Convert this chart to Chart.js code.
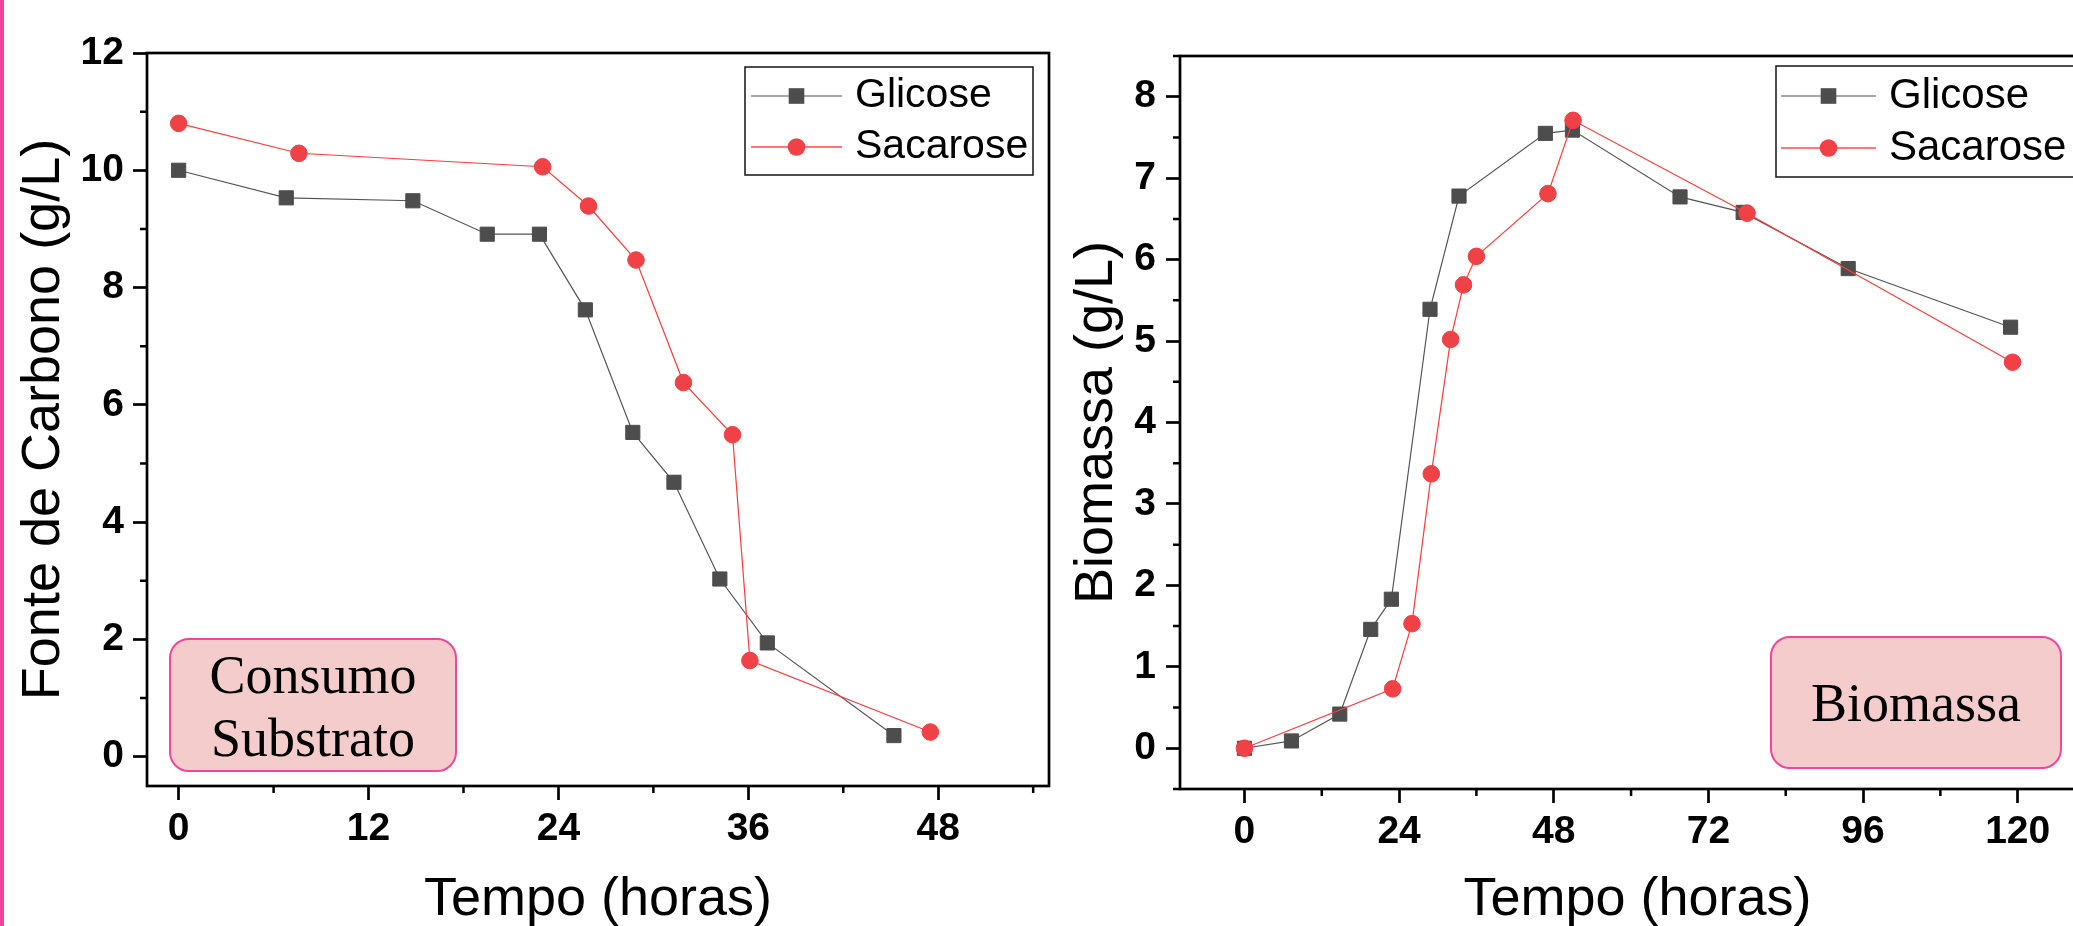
<!DOCTYPE html>
<html><head><meta charset="utf-8">
<script src="https://cdn.jsdelivr.net/npm/chart.js@4.4.1/dist/chart.umd.min.js"></script>
<style>
html,body{margin:0;padding:0;background:#fff;width:2073px;height:926px;overflow:hidden;}
#wrap{position:relative;width:2073px;height:926px;overflow:hidden;background:#fff;}
canvas{position:absolute;top:0;}
#c1{left:0;width:1060px;height:926px;}
#c2{left:1060px;width:1100px;height:926px;}
.bar{position:absolute;left:0;top:0;width:4px;height:926px;background:#f0449a;}
.note{position:absolute;box-sizing:border-box;border:2px solid #f4449b;border-radius:20px;background:#f4cccc;
font-family:"Liberation Serif","Times New Roman",serif;font-size:54px;line-height:63px;text-align:center;color:#000;}
</style></head>
<body><div id="wrap">
<canvas id="c1" width="1060" height="926"></canvas>
<canvas id="c2" width="1100" height="926"></canvas>
<div class="bar"></div>
<div class="note" style="left:169px;top:638px;width:288px;height:134px;padding-top:4px;">Consumo<br>Substrato</div>
<div class="note" style="left:1770px;top:636px;width:292px;height:133px;padding-top:34px;">Biomassa</div>
</div>
<script>
// ---------- data ----------
const seriesNames = ['Glicose', 'Sacarose'];

// Consumo de substrato (g/L) vs tempo (h)
const substrateGlicoseHours = [0, 6.8, 14.8, 19.5, 22.8, 25.7, 28.7, 31.3, 34.2, 37.2, 45.2];
const substrateGlicose      = [10.0, 9.53, 9.48, 8.91, 8.91, 7.62, 5.53, 4.68, 3.03, 1.94, 0.36];
const substrateSacaroseHours = [0, 7.6, 23.0, 25.9, 28.9, 31.9, 35.0, 36.1, 47.5];
const substrateSacarose      = [10.80, 10.29, 10.06, 9.39, 8.47, 6.38, 5.49, 1.64, 0.42];

// Biomassa (g/L) vs tempo (h)
const biomassGlicoseHours = [0, 7.3, 14.8, 19.6, 22.8, 28.8, 33.3, 46.7, 50.9, 67.6, 77.4, 93.7, 118.9];
const biomassGlicose      = [0.0, 0.09, 0.42, 1.46, 1.83, 5.39, 6.78, 7.55, 7.59, 6.77, 6.58, 5.89, 5.17];
const biomassSacaroseHours = [0, 23.0, 26.0, 29.0, 32.0, 34.0, 36.0, 47.1, 51.0, 78.0, 119.2];
const biomassSacarose      = [0.0, 0.73, 1.53, 3.37, 5.02, 5.69, 6.04, 6.81, 7.71, 6.57, 4.74];

// ticks
const leftXTicks = [0, 12, 24, 36, 48];
const leftXMinor = [6, 18, 30, 42, 54];
const leftYTicks = [0, 2, 4, 6, 8, 10, 12];
const leftYMinor = [1, 3, 5, 7, 9, 11];
const rightXTicks = [0, 24, 48, 72, 96, 120];
const rightXMinor = [12, 36, 60, 84, 108, 132];
const rightYTicks = [0, 1, 2, 3, 4, 5, 6, 7, 8];
const rightYMinor = [-0.5, 0.5, 1.5, 2.5, 3.5, 4.5, 5.5, 6.5, 7.5, 8.5];

const xTitle = 'Tempo (horas)';
const leftYTitle = 'Fonte de Carbono (g/L)';
const rightYTitle = 'Biomassa (g/L)';

// ---------- styles ----------
const GRAY = '#4d4d4d', GRAY_LINE = '#555555', RED = '#ef4146', RED_LINE = '#ff3b3b';
const SANS = '"Liberation Sans", Arial, sans-serif';
const TICK_FONT = {family: SANS, size: 39, weight: 'bold', lineHeight: 1.2};
const TITLE_FONT = {family: SANS, size: 54, weight: 'normal', lineHeight: 1};

const toPoints = (xs, ys) => xs.map((x, i) => ({x: x, y: ys[i]}));

const framePlugin = {
  id: 'frame',
  afterDraw(chart, args, o) {
    const {ctx, chartArea: a, scales} = chart;
    ctx.save();
    ctx.strokeStyle = '#000';
    ctx.lineWidth = 2.7;
    ctx.strokeRect(a.left, a.top, a.right - a.left, a.bottom - a.top);
    ctx.lineWidth = 2.5;
    ctx.beginPath();
    o.xMinor.forEach(v => { const p = scales.x.getPixelForValue(v); ctx.moveTo(p, a.bottom); ctx.lineTo(p, a.bottom + 7); });
    o.yMinor.forEach(v => { const p = scales.y.getPixelForValue(v); ctx.moveTo(a.left, p); ctx.lineTo(a.left - 7, p); });
    ctx.stroke();
    // legend
    const L = o.legend;
    ctx.fillStyle = '#fff';
    ctx.fillRect(L.x, L.y, L.w, L.h);
    ctx.strokeStyle = '#222';
    ctx.lineWidth = 1.6;
    ctx.strokeRect(L.x, L.y, L.w, L.h);
    chart.data.datasets.forEach((d, i) => {
      const y = L.rows[i];
      ctx.strokeStyle = d.legendLine;
      ctx.lineWidth = 1.6;
      ctx.beginPath(); ctx.moveTo(L.lineX1, y); ctx.lineTo(L.lineX2, y); ctx.stroke();
      const mx = (L.lineX1 + L.lineX2) / 2;
      ctx.fillStyle = d.pointBackgroundColor;
      if (d.pointStyle === 'rect') {
        ctx.fillRect(mx - 7.8, y - 7.8, 15.6, 15.6);
      } else {
        ctx.beginPath(); ctx.arc(mx, y, 8.8, 0, Math.PI * 2); ctx.fill();
      }
      ctx.fillStyle = '#000';
      ctx.font = L.fontSize + 'px ' + SANS;
      ctx.textBaseline = 'middle';
      ctx.textAlign = 'left';
      ctx.fillText(d.label, L.textX, y);
    });
    ctx.restore();
  }
};

function makeChart(id, c) {
  return new Chart(document.getElementById(id), {
    type: 'line',
    data: {datasets: [
      {label: seriesNames[0], data: toPoints(c.gx, c.gy), borderColor: GRAY_LINE, backgroundColor: GRAY,
       pointBackgroundColor: GRAY, pointBorderColor: GRAY, pointStyle: 'rect', pointRadius: 10, pointBorderWidth: 1,
       borderWidth: 1.2, tension: 0, order: 1, legendLine: '#8a8a8a'},
      {label: seriesNames[1], data: toPoints(c.sx, c.sy), borderColor: RED_LINE, backgroundColor: RED,
       pointBackgroundColor: RED, pointBorderColor: RED, pointStyle: 'circle', pointRadius: 8.3, pointBorderWidth: 1,
       borderWidth: 1.2, tension: 0, order: 0, legendLine: '#ff4a4a'}
    ]},
    options: {
      responsive: false, animation: false, devicePixelRatio: 1,
      layout: {padding: c.padding},
      plugins: {
        legend: {display: false}, tooltip: {enabled: false},
        frame: {xMinor: c.xMinor, yMinor: c.yMinor, legend: c.legend}
      },
      scales: {
        x: {
          type: 'linear', min: c.xMin, max: c.xMax,
          afterFit: s => { s.height = c.xAxisHeight; },
          afterBuildTicks: s => { s.ticks = c.xTicks.map(v => ({value: v})); },
          grid: {display: true, drawOnChartArea: false, drawTicks: true, tickLength: 14, tickWidth: 2.7, tickColor: '#000'},
          border: {display: false},
          ticks: {font: TICK_FONT, color: '#000', padding: 6, maxRotation: 0, autoSkip: false},
          title: {display: true, text: xTitle, font: TITLE_FONT, color: '#000', padding: {top: 0, bottom: -1}}
        },
        y: {
          type: 'linear', min: c.yMin, max: c.yMax,
          afterFit: s => { s.width = c.yAxisWidth; },
          afterBuildTicks: s => { s.ticks = c.yTicks.map(v => ({value: v})); },
          grid: {display: true, drawOnChartArea: false, drawTicks: true, tickLength: 14, tickWidth: 2.7, tickColor: '#000'},
          border: {display: false},
          ticks: {font: TICK_FONT, color: '#000', padding: c.yTickPad, autoSkip: false},
          title: {display: true, text: c.yTitle, font: TITLE_FONT, color: '#000', padding: {top: c.yTitlePad, bottom: 0}}
        }
      }
    },
    plugins: [framePlugin]
  });
}

makeChart('c1', {
  gx: substrateGlicoseHours, gy: substrateGlicose, sx: substrateSacaroseHours, sy: substrateSacarose,
  xMin: -2, xMax: 55, yMin: -0.5, yMax: 12,
  xTicks: leftXTicks, yTicks: leftYTicks, xMinor: leftXMinor, yMinor: leftYMinor,
  padding: {top: 53, right: 9, left: 0, bottom: 0},
  xAxisHeight: 140, yAxisWidth: 147, yTickPad: 9, yTitlePad: 17, yTitle: leftYTitle,
  legend: {x: 745, y: 67, w: 288, h: 108, lineX1: 751, lineX2: 842, textX: 855, rows: [96, 147], fontSize: 41}
});

makeChart('c2', {
  gx: biomassGlicoseHours, gy: biomassGlicose, sx: biomassSacaroseHours, sy: biomassSacarose,
  xMin: -10, xMax: 132, yMin: -0.5, yMax: 8.5,
  xTicks: rightXTicks, yTicks: rightYTicks, xMinor: rightXMinor, yMinor: rightYMinor,
  padding: {top: 56, right: 65, left: 0, bottom: 0},
  xAxisHeight: 137, yAxisWidth: 120, yTickPad: 10, yTitlePad: 10, yTitle: rightYTitle,
  legend: {x: 716, y: 66, w: 330, h: 111, lineX1: 721, lineX2: 816, textX: 829, rows: [96, 148], fontSize: 42}
});
</script>
</body></html>
